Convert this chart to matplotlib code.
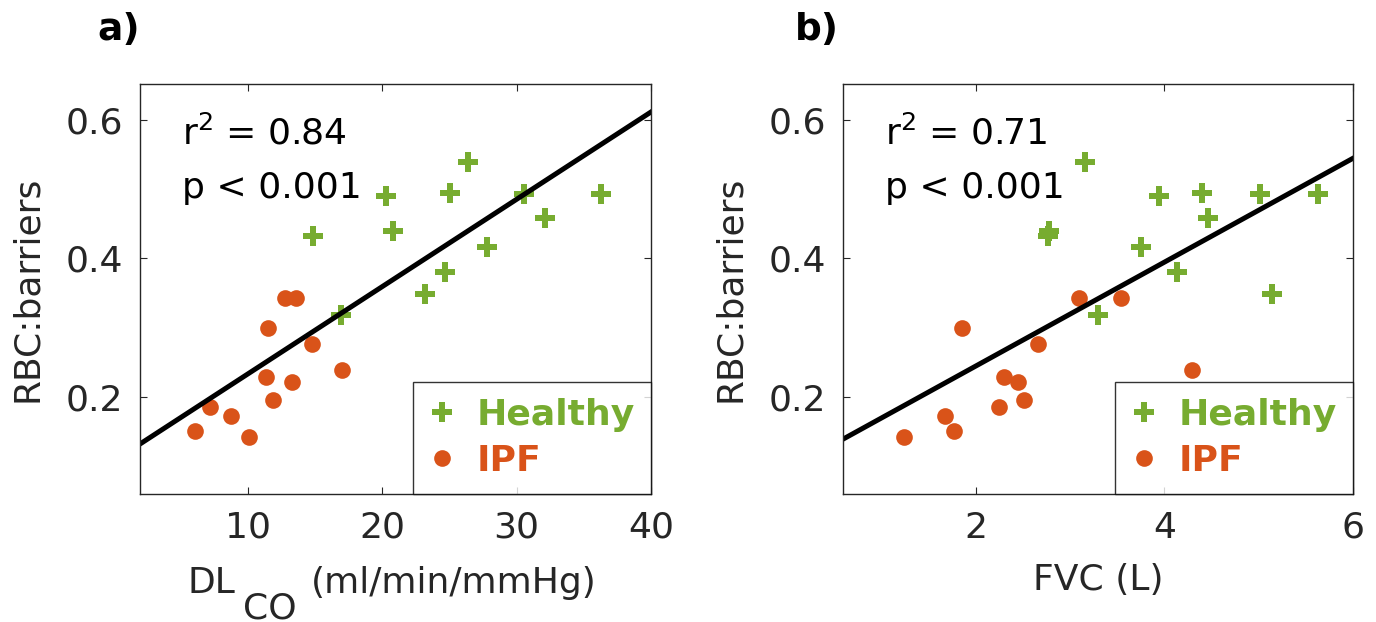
import matplotlib.pyplot as plt
import numpy as np

plt.rcParams["font.family"] = "DejaVu Sans"

GREEN = "#77ac30"
ORANGE = "#d95319"
FS = 26

# panel a: DLCO vs RBC:barrier
dlco_healthy = [26.4, 20.3, 25.05, 30.56, 36.3, 14.85, 20.8, 32.1, 27.8, 24.67, 23.2, 16.9]
rbc_healthy_a = [0.539, 0.490, 0.494, 0.493, 0.493, 0.432, 0.439, 0.458, 0.417, 0.381, 0.349, 0.318]
dlco_ipf = [12.74, 13.58, 11.52, 14.77, 16.98, 11.35, 13.25, 11.85, 7.16, 8.76, 6.07, 10.08]
rbc_ipf_a = [0.343, 0.343, 0.300, 0.277, 0.239, 0.229, 0.221, 0.196, 0.185, 0.173, 0.151, 0.142]
fit_a = (0.0126, 0.1074)  # slope, intercept

# panel b: FVC vs RBC:barrier
fvc_healthy = [3.16, 3.94, 4.40, 5.01, 5.63, 2.77, 2.78, 4.46, 3.75, 4.13, 5.14, 3.29]
rbc_healthy_b = [0.539, 0.490, 0.494, 0.493, 0.493, 0.432, 0.439, 0.458, 0.417, 0.381, 0.349, 0.318]
fvc_ipf = [3.09, 3.54, 1.85, 2.66, 4.29, 2.30, 2.45, 2.51, 2.25, 1.67, 1.77, 1.24]
rbc_ipf_b = [0.343, 0.343, 0.300, 0.277, 0.239, 0.229, 0.221, 0.196, 0.185, 0.173, 0.151, 0.142]
fit_b = (0.075, 0.0947)

stats_a = ["r$^2$ = 0.84", "p < 0.001"]
stats_b = ["r$^2$ = 0.71", "p < 0.001"]

fig = plt.figure(figsize=(13.76, 6.22), dpi=100)
ax_a = fig.add_axes([0.1017, 0.206, 0.3713, 0.659])
ax_b = fig.add_axes([0.6126, 0.206, 0.3707, 0.659])


def draw_panel(ax, xh, yh, xi, yi, fit, xlim, xticks, stats):
    ax.plot(xh, yh, linestyle="none", marker="P", markersize=15,
            color=GREEN, markeredgewidth=0, label="Healthy")
    ax.plot(xi, yi, linestyle="none", marker="o", markersize=12,
            color=ORANGE, markeredgewidth=0, label="IPF")
    xs = np.array(xlim)
    ax.plot(xs, fit[0] * xs + fit[1], color="black", linewidth=3.6)
    ax.set_xlim(xlim)
    ax.set_ylim(0.06, 0.652)
    ax.set_xticks(xticks)
    ax.set_yticks([0.2, 0.4, 0.6])
    ax.set_yticklabels(["0.2", "0.4", "0.6"])
    ax.tick_params(direction="in", top=True, right=True, length=5,
                   labelsize=FS, colors="#262626", pad=12)
    for s in ax.spines.values():
        s.set_color("#262626")
        s.set_linewidth(1.0)
    ax.set_ylabel("RBC:barriers", fontsize=FS, color="#262626", labelpad=16)
    ax.text(0.082, 0.88, stats[0], transform=ax.transAxes, fontsize=FS,
            va="center", ha="left")
    ax.text(0.082, 0.745, stats[1], transform=ax.transAxes, fontsize=FS,
            va="center", ha="left")
    leg = ax.legend(loc="lower right", frameon=True, fancybox=False,
                    borderaxespad=0, handlelength=0.7, handletextpad=0.6,
                    labelspacing=0.32, borderpad=0.45,
                    prop={"weight": "bold", "size": FS}, labelcolor="linecolor")
    leg.get_frame().set_edgecolor("black")
    leg.get_frame().set_linewidth(1.0)


draw_panel(ax_a, dlco_healthy, rbc_healthy_a, dlco_ipf, rbc_ipf_a, fit_a,
           (1.95, 40), [10, 20, 30, 40], stats_a)
draw_panel(ax_b, fvc_healthy, rbc_healthy_b, fvc_ipf, rbc_ipf_b, fit_b,
           (0.59, 6), [2, 4, 6], stats_b)

# x labels
ax_a.text(0.139, -0.217, "DL", transform=ax_a.transAxes, fontsize=FS,
          ha="center", va="center", color="#262626")
ax_a.text(0.254, -0.28, "CO", transform=ax_a.transAxes, fontsize=FS,
          ha="center", va="center", color="#262626")
ax_a.text(0.614, -0.217, "(ml/min/mmHg)", transform=ax_a.transAxes, fontsize=FS,
          ha="center", va="center", color="#262626")
ax_b.text(0.5, -0.21, "FVC (L)", transform=ax_b.transAxes, fontsize=FS,
          ha="center", va="center", color="#262626")

fig.text(0.0705, 0.952, "a)", fontsize=27, fontweight="bold", va="center")
fig.text(0.578, 0.952, "b)", fontsize=27, fontweight="bold", va="center")

fig.savefig("out.png", dpi=100, facecolor="white")
